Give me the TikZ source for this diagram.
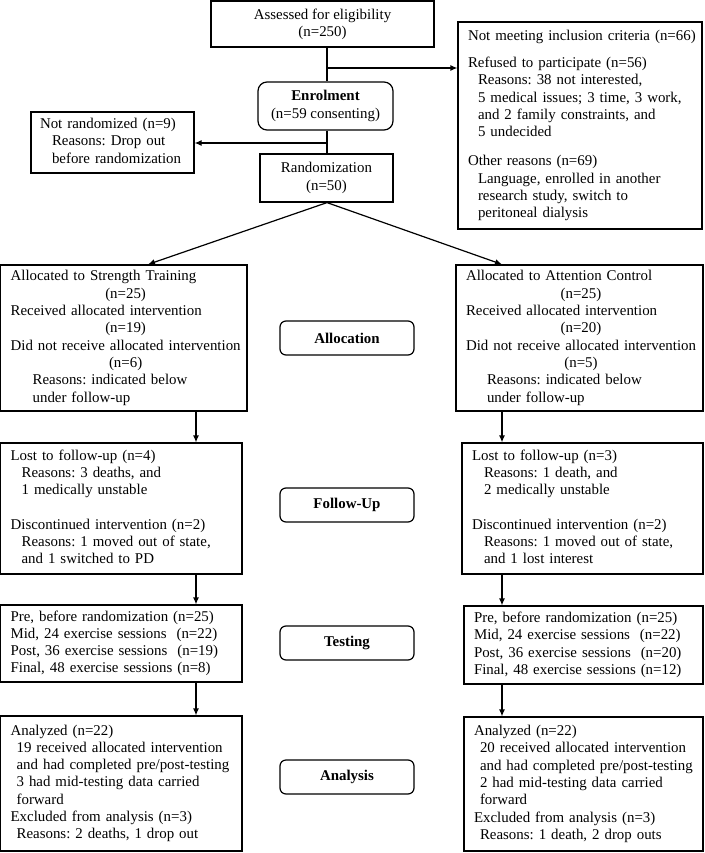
\documentclass[tikz,border=0pt]{standalone}
\usepackage{fontspec}
\setmainfont{Liberation Serif}
\usetikzlibrary{arrows.meta}
\frenchspacing

\newcommand{\txt}{\fontsize{14.9}{17.3}\selectfont}
\newcommand{\rows}[1]{\noindent\begin{tabular}{@{}l@{}}#1\end{tabular}}
\newcommand{\ctr}[1]{\multicolumn{1}{@{}c@{}}{#1}}

\tikzset{
  every node/.style={font=\txt},
  listbox/.style={draw, line width=1.2pt, inner xsep=10pt, inner ysep=0pt, align=left},
  centerbox/.style={draw, line width=1.2pt, inner sep=0pt, align=center},
  stagebox/.style={draw, line width=1.2pt, rounded corners=6pt, minimum width=134pt,
    minimum height=34pt, font=\txt\bfseries},
  link/.style={line width=1.2pt},
  arr/.style={line width=1.2pt, -{Latex[length=7pt,width=6pt]}}
}

\begin{document}
\begin{tikzpicture}[x=1pt, y=-1pt]
\useasboundingbox (0,0) rectangle (704,853);

% screening
\draw (322.5,24) node[centerbox, minimum width=223pt, minimum height=46pt] (assess)
  {Assessed for eligibility\\(n=250)};

\draw (580,125.5) node[listbox, text width=224pt, minimum height=207pt] (notmeet)
  {\rows{Not meeting inclusion criteria (n=66)\\[10pt]
   Refused to participate (n=56)\\
   \hspace*{10pt}Reasons: 38 not interested,\\
   \hspace*{10pt}5 medical issues; 3 time, 3 work,\\
   \hspace*{10pt}and 2 family constraints, and\\
   \hspace*{10pt}5 undecided\\[12pt]
   Other reasons (n=69)\\
   \hspace*{10pt}Language, enrolled in another\\
   \hspace*{10pt}research study, switch to\\
   \hspace*{10pt}peritoneal dialysis}};

\draw (325.5,106) node[centerbox, rounded corners=9pt, minimum width=135pt, minimum height=48pt] (enrol)
  {\textbf{Enrolment}\\(n=59 consenting)};

\draw (112.5,142.5) node[listbox, inner xsep=9pt, text width=145pt, minimum height=61pt] (notrand)
  {\rows{Not randomized (n=9)\\
   \hspace*{12pt}Reasons: Drop out\\
   \hspace*{12pt}before randomization}};

\draw (326.5,178) node[centerbox, minimum width=133pt, minimum height=48pt] (random)
  {Randomization\\(n=50)};

% allocation
\draw (123.8,338) node[listbox, text width=226.4pt, minimum height=146pt] (alloc1)
  {\rows{Allocated to Strength Training\\
   \ctr{(n=25)}\\
   Received allocated intervention\\
   \ctr{(n=19)}\\
   Did not receive allocated intervention\\
   \ctr{(n=6)}\\
   \hspace*{22pt}Reasons: indicated below\\
   \hspace*{22pt}under follow-up}};

\draw (579.5,338) node[listbox, text width=227pt, minimum height=146pt] (alloc2)
  {\rows{Allocated to Attention Control\\
   \ctr{(n=25)}\\
   Received allocated intervention\\
   \ctr{(n=20)}\\
   Did not receive allocated intervention\\
   \ctr{(n=5)}\\
   \hspace*{21pt}Reasons: indicated below\\
   \hspace*{21pt}under follow-up}};

\draw (347,338) node[stagebox] (allocation) {Allocation};

% follow-up
\draw (121.3,508.5) node[listbox, text width=221.4pt, minimum height=131pt] (fu1)
  {\rows{Lost to follow-up (n=4)\\
   \hspace*{11pt}Reasons: 3 deaths, and\\
   \hspace*{11pt}1 medically unstable\\
   \\
   Discontinued intervention (n=2)\\
   \hspace*{11pt}Reasons: 1 moved out of state,\\
   \hspace*{11pt}and 1 switched to PD}};

\draw (582.5,508.5) node[listbox, text width=221pt, minimum height=131pt] (fu2)
  {\rows{Lost to follow-up (n=3)\\
   \hspace*{12pt}Reasons: 1 death, and\\
   \hspace*{12pt}2 medically unstable\\
   \\
   Discontinued intervention (n=2)\\
   \hspace*{12pt}Reasons: 1 moved out of state,\\
   \hspace*{12pt}and 1 lost interest}};

\draw (347,505) node[stagebox] (followup) {Follow-Up};

% testing
\draw (121.3,643.5) node[listbox, text width=221.4pt, minimum height=77pt] (test1)
  {\rows{Pre, before randomization (n=25)\\
   Mid, 24 exercise sessions\ \ (n=22)\\
   Post, 36 exercise sessions\ \ (n=19)\\
   Final, 48 exercise sessions (n=8)}};

\draw (583.5,645) node[listbox, text width=219pt, minimum height=78pt] (test2)
  {\rows{Pre, before randomization (n=25)\\
   Mid, 24 exercise sessions\ \ (n=22)\\
   Post, 36 exercise sessions\ \ (n=20)\\
   Final, 48 exercise sessions (n=12)}};

\draw (347,643) node[stagebox] (testing) {Testing};

% analysis
\draw (121.3,783.5) node[listbox, text width=221.4pt, minimum height=135pt] (ana1)
  {\rows{Analyzed (n=22)\\
   \hspace*{6pt}19 received allocated intervention\\
   \hspace*{6pt}and had completed pre/post-testing\\
   \hspace*{6pt}3 had mid-testing data carried\\
   \hspace*{6pt}forward\\
   Excluded from analysis (n=3)\\
   \hspace*{6pt}Reasons: 2 deaths, 1 drop out}};

\draw (583.5,784) node[listbox, text width=219pt, minimum height=134pt] (ana2)
  {\rows{Analyzed (n=22)\\
   \hspace*{6pt}20 received allocated intervention\\
   \hspace*{6pt}and had completed pre/post-testing\\
   \hspace*{6pt}2 had mid-testing data carried\\
   \hspace*{6pt}forward\\
   Excluded from analysis (n=3)\\
   \hspace*{6pt}Reasons: 1 death, 2 drop outs}};

\draw (347,777) node[stagebox] (analysis) {Analysis};

% connectors
\coordinate (trunk) at (327,0);
\coordinate (lcol) at (196,0);
\coordinate (rcol) at (502,0);
\coordinate (tipl) at (148,0);
\coordinate (split1) at (327,68);
\coordinate (split2) at (327,143);

\draw[link] (assess.south -| trunk) -- (enrol.north -| trunk);
\draw[link] (enrol.south -| trunk) -- (random.north -| trunk);
\draw[arr] (split1) -- (split1 -| notmeet.west);
\draw[arr] (split2) -- (split2 -| notrand.east);
\draw[arr] (random.south -| trunk) -- (alloc1.north -| tipl);
\draw[arr] (random.south -| trunk) -- (alloc2.north -| rcol);

\foreach \a/\b in {alloc1/fu1, fu1/test1, test1/ana1}
  \draw[arr] (\a.south -| lcol) -- (\b.north -| lcol);
\foreach \a/\b in {alloc2/fu2, fu2/test2, test2/ana2}
  \draw[arr] (\a.south -| rcol) -- (\b.north -| rcol);
\end{tikzpicture}
\end{document}
